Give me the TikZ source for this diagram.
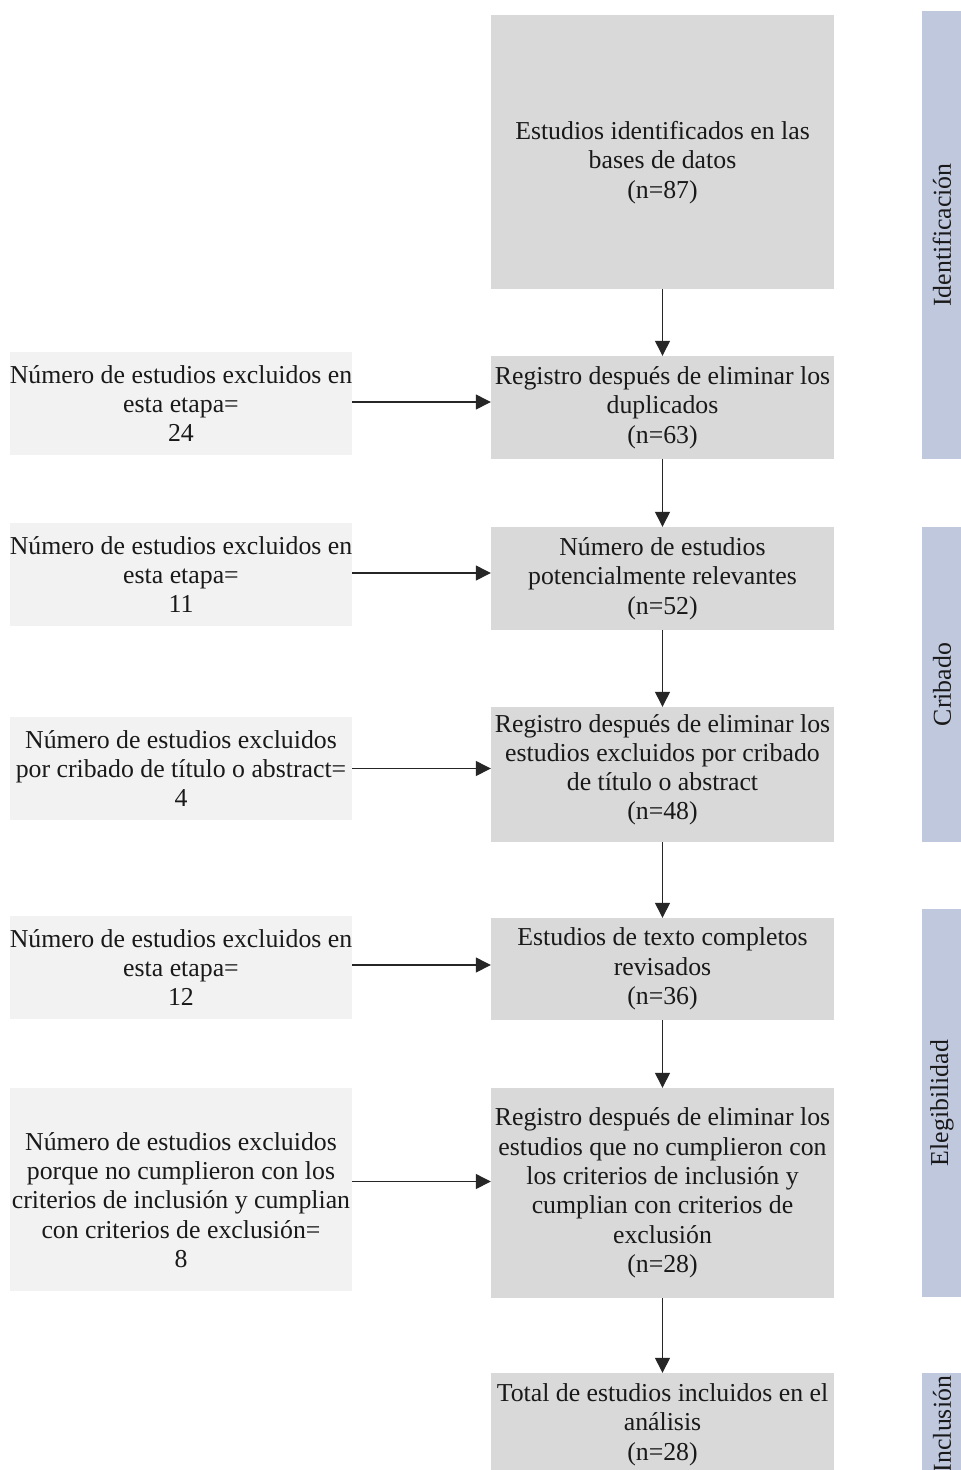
\documentclass[tikz,border=0pt]{standalone}
\usepackage{fontspec}
\setmainfont{Liberation Serif}
\usetikzlibrary{arrows.meta}
\definecolor{lboxc}{RGB}{242,242,242}
\definecolor{rboxc}{RGB}{217,217,217}
\definecolor{barc}{RGB}{192,200,222}
\begin{document}
\begin{tikzpicture}[x=1pt,y=-1pt,
  base/.style={inner sep=0pt, align=center, font=\fontsize{25.8}{29.3}\selectfont, text=black!90},
  leftbox/.style={base, fill=lboxc, minimum width=342pt},
  rightbox/.style={base, fill=rboxc, minimum width=343pt},
  barbox/.style={base, fill=barc, minimum height=40pt, rotate=90},
  conn/.style={line width=1.3pt, draw=black!85, -{Triangle[width=15pt,length=15pt]}}
]
\useasboundingbox (0,0) rectangle (961,1470);
\clip (0,0) rectangle (961,1470);
\fill[white] (0,0) rectangle (961,1470);

% right column
\node[rightbox, minimum height=274pt] (b1) at (662.5,152) {\rule{0pt}{39pt}Estudios identificados en las\\bases de datos\\(n=87)};
\node[rightbox, minimum height=103pt] (b2) at (662.5,407.5) {Registro después de eliminar los\\duplicados\\(n=63)};
\node[rightbox, minimum height=103pt] (b3) at (662.5,578.5) {Número de estudios\\potencialmente relevantes\\(n=52)};
\node[rightbox, minimum height=135pt] (b4) at (662.5,774.5) {Registro después de eliminar los\\estudios excluidos por cribado\\de título o abstract\\(n=48)\rule[-15pt]{0pt}{15pt}};
\node[rightbox, minimum height=102pt] (b5) at (662.5,969) {Estudios de texto completos\\revisados\\(n=36)};
\node[rightbox, minimum height=210pt] (b6) at (662.5,1193) {Registro después de eliminar los\\estudios que no cumplieron con\\los criterios de inclusión y\\cumplian con criterios de\\exclusión\\(n=28)};
\node[rightbox, minimum height=103pt] (b7) at (662.5,1424.5) {Total de estudios incluidos en el\\análisis\\(n=28)};

% left column
\node[leftbox, minimum height=103pt] (l1) at (181,403.5) {Número de estudios excluidos en\\esta etapa=\\24};
\node[leftbox, minimum height=103pt] (l2) at (181,574.5) {Número de estudios excluidos en\\esta etapa=\\11};
\node[leftbox, minimum height=103pt] (l3) at (181,768.5) {Número de estudios excluidos\\por cribado de título o abstract=\\4};
\node[leftbox, minimum height=103pt] (l4) at (181,967.5) {Número de estudios excluidos en\\esta etapa=\\12};
\node[leftbox, minimum height=203pt] (l5) at (181,1189.5) {\rule{0pt}{39pt}Número de estudios excluidos\\porque no cumplieron con los\\criterios de inclusión y cumplian\\con criterios de exclusión=\\8};

% stage bars
\node[barbox, minimum width=448pt] (s1) at (942,235) {Identificación};
\node[barbox, minimum width=315pt] (s2) at (942,684.5) {Cribado};
\node[barbox, minimum width=388pt] (s3) at (942,1103) {Elegibilidad};
\fill[barc] (922,1373) rectangle (962,1480);
\node[barbox, fill=none, minimum width=100pt] (s4) at (942,1424) {Inclusión};

% vertical connectors
\draw[conn] (b1) -- (b2);
\draw[conn] (b2) -- (b3);
\draw[conn] (b3) -- (b4);
\draw[conn] (b4) -- (b5);
\draw[conn] (b5) -- (b6);
\draw[conn] (b6) -- (b7);

% horizontal connectors
\draw[conn] ([yshift=1.5pt]l1.east) -- ([yshift=1.5pt]l1.east -| b2.west);
\draw[conn] ([yshift=1.5pt]l2.east) -- ([yshift=1.5pt]l2.east -| b3.west);
\draw[conn] (l3.east) -- (l3.east -| b4.west);
\draw[conn] ([yshift=2.5pt]l4.east) -- ([yshift=2.5pt]l4.east -| b5.west);
\draw[conn] ([yshift=8pt]l5.east) -- ([yshift=8pt]l5.east -| b6.west);
\end{tikzpicture}
\end{document}
